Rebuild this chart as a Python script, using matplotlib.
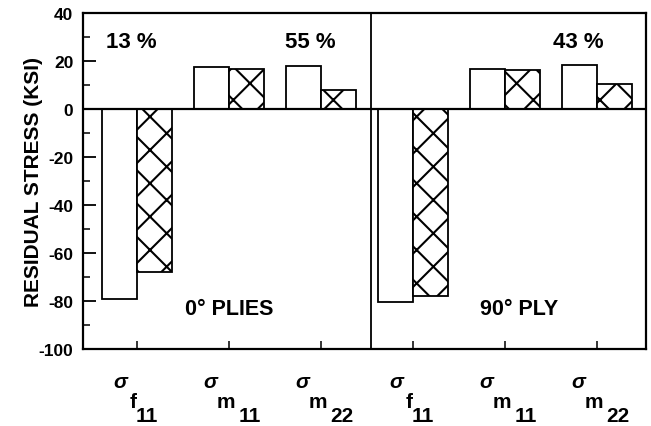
import numpy as np
import matplotlib
matplotlib.use("Agg")
import matplotlib.pyplot as plt

plt.rcParams['font.family'] = ['Liberation Sans', 'DejaVu Sans']
plt.rcParams['font.weight'] = 'bold'

# data (ksi)
components = ["f", "m", "m", "f", "m", "m"]
indices = ["11", "11", "22", "11", "11", "22"]
open_vals = [-79, 17.5, 18, -80.5, 16.7, 18.3]
hatch_vals = [-68, 16.7, 7.9, -78, 16.3, 10.4]
percents = ["13 %", "55 %", "43 %"]
panels = ["0° PLIES", "90° PLY"]

pos = np.arange(len(open_vals))
w = 0.38

fig = plt.figure(figsize=(6.51, 4.27), dpi=100)
ax = fig.add_axes([0.1275, 0.1803, 0.8648, 0.7867])

ax.bar(pos - w / 2, open_vals, w, color='white', edgecolor='black', linewidth=1.3)
plt.rcParams['hatch.linewidth'] = 1.5
ax.bar(pos + w / 2, hatch_vals, w, color='white', edgecolor='black', linewidth=1.3, hatch='x')

ax.axhline(0, color='black', lw=1.6)
ax.axvline(2.54, color='black', lw=1.3)

ax.set_xlim(-0.59, 5.53)
ax.set_ylim(-100, 40)
ax.set_yticks(np.arange(-100, 41, 20))
ax.set_yticks(np.arange(-90, 40, 20), minor=True)
ax.set_yticklabels([str(v) for v in range(-100, 41, 20)], fontsize=12.5, fontweight='bold')
ax.tick_params(axis='y', which='major', direction='in', length=9, width=1.3, pad=7)
ax.tick_params(axis='y', which='minor', direction='in', length=5, width=1.1)
ax.set_xticks(pos)
ax.set_xticklabels([])
ax.tick_params(axis='x', direction='in', length=6, width=1.1)
for s in ax.spines.values():
    s.set_linewidth(1.6)

ax.set_ylabel("RESIDUAL STRESS (KSI)", fontsize=15, fontweight='bold', labelpad=-3)

# sigma labels drawn as stepped pieces: sigma, component, index
offs = {"f": (-0.18, -0.05, 0.1), "m": (-0.21, -0.04, 0.22)}
tr = ax.get_xaxis_transform()
for p, c, i in zip(pos, components, indices):
    o = offs[c]
    ax.text(p + o[0], -0.098, "σ", transform=tr, ha='center', va='center',
            fontsize=15, style='italic')
    ax.text(p + o[1], -0.155, c, transform=tr, ha='center', va='center', fontsize=15)
    ax.text(p + o[2], -0.198, i, transform=tr, ha='center', va='center', fontsize=15)

ax.text(-0.06, 28.3, percents[0], ha='center', va='center', fontsize=16)
ax.text(1.88, 28.3, percents[1], ha='center', va='center', fontsize=16)
ax.text(4.79, 28.3, percents[2], ha='center', va='center', fontsize=16)
ax.text(0.995, -83.3, panels[0], ha='center', va='center', fontsize=15.5)
ax.text(4.15, -83.3, panels[1], ha='center', va='center', fontsize=15.5)

fig.savefig("out.png", dpi=100)
